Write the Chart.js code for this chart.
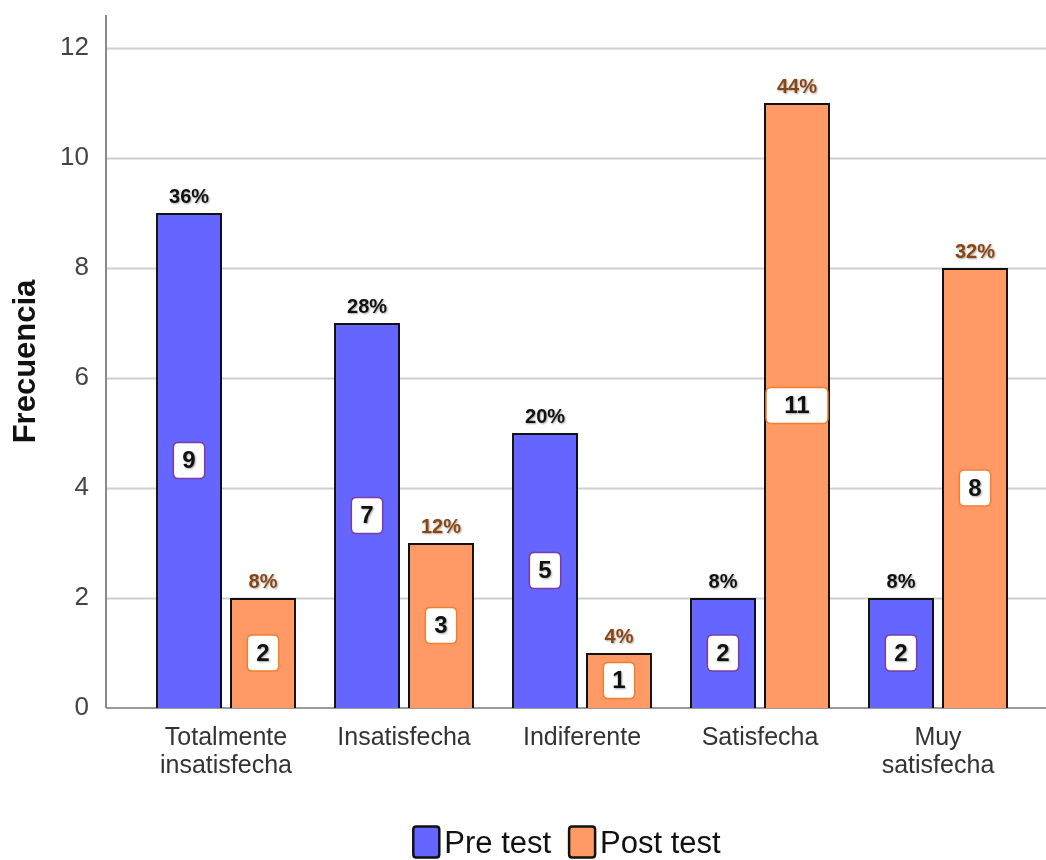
<!DOCTYPE html>
<html>
<head>
<meta charset="utf-8">
<script src="https://cdn.jsdelivr.net/npm/chart.js@4.4.1/dist/chart.umd.min.js"></script>
<style>
  html, body { margin: 0; padding: 0; background: #fff; }
  #wrap { width: 1046px; height: 860px; }
</style>
</head>
<body>
<div id="wrap"><canvas id="c" width="1046" height="860"></canvas></div>
<script>
// Satisfaction categories (x axis)
const categories = [
  ['Totalmente', 'insatisfecha'],
  'Insatisfecha',
  'Indiferente',
  'Satisfecha',
  ['Muy', 'satisfecha']
];
// Frequencies per group
const preTest = [9, 7, 5, 2, 2];
const postTest = [2, 3, 1, 11, 8];
const seriesNames = ['Pre test', 'Post test'];
// Y axis ticks
const yTicks = [0, 2, 4, 6, 8, 10, 12];

const FONT = '"Liberation Sans", Arial, sans-serif';
const AXIS_INSET = 31;          // y axis line sits left of the plotted categories
const percentColors = ['#111111', '#8B4513'];
const boxBorderColors = ['#7A3CA8', '#F07F2E'];

// Gridlines and axis lines, extended beyond the category band
const gridPlugin = {
  id: 'extendedGrid',
  beforeDatasetsDraw(chart) {
    const { ctx, chartArea, scales } = chart;
    const y = scales.y;
    const axisX = chartArea.left - AXIS_INSET;
    ctx.save();
    ctx.lineWidth = 2;
    ctx.strokeStyle = '#cfcfcf';
    y.ticks.forEach(t => {
      if (t.value === 0) return;
      const py = Math.round(y.getPixelForValue(t.value)) + 0.5;
      ctx.beginPath();
      ctx.moveTo(axisX, py);
      ctx.lineTo(chart.width, py);
      ctx.stroke();
    });
    // baseline
    const by = Math.round(y.getPixelForValue(0));
    ctx.strokeStyle = '#9a9a9a';
    ctx.beginPath();
    ctx.moveTo(axisX, by);
    ctx.lineTo(chart.width, by);
    ctx.stroke();
    // y axis line
    ctx.strokeStyle = '#8a8a8a';
    ctx.beginPath();
    ctx.moveTo(axisX, chartArea.top);
    ctx.lineTo(axisX, by);
    ctx.stroke();
    ctx.restore();
  }
};

function roundRect(ctx, x, y, w, h, r) {
  ctx.beginPath();
  ctx.moveTo(x + r, y);
  ctx.lineTo(x + w - r, y);
  ctx.quadraticCurveTo(x + w, y, x + w, y + r);
  ctx.lineTo(x + w, y + h - r);
  ctx.quadraticCurveTo(x + w, y + h, x + w - r, y + h);
  ctx.lineTo(x + r, y + h);
  ctx.quadraticCurveTo(x, y + h, x, y + h - r);
  ctx.lineTo(x, y + r);
  ctx.quadraticCurveTo(x, y, x + r, y);
  ctx.closePath();
}

// Percent above each bar, count in a white box inside each bar
const labelPlugin = {
  id: 'barLabels',
  afterDatasetsDraw(chart) {
    const { ctx } = chart;
    chart.data.datasets.forEach((ds, i) => {
      const total = ds.data.reduce((a, b) => a + b, 0);
      const meta = chart.getDatasetMeta(i);
      meta.data.forEach((bar, j) => {
        const v = ds.data[j];
        const { x, y, base, width } = bar.getProps(['x', 'y', 'base', 'width'], true);
        const pct = Math.round(v / total * 100) + '%';
        ctx.save();
        ctx.shadowColor = 'rgba(0,0,0,0.35)';
        ctx.shadowBlur = 2;
        ctx.shadowOffsetX = 1;
        ctx.shadowOffsetY = 1;
        ctx.font = 'bold 20px ' + FONT;
        ctx.fillStyle = percentColors[i];
        ctx.textAlign = 'center';
        ctx.textBaseline = 'alphabetic';
        ctx.fillText(pct, x, y - 10);
        ctx.restore();

        // value box
        const txt = String(v);
        ctx.save();
        ctx.font = 'bold 24px ' + FONT;
        const tw = ctx.measureText(txt).width;
        const bw = txt.length > 1 ? width - 4 : tw + 18;
        const bh = 36;
        const cy = (y + base) / 2;
        roundRect(ctx, x - bw / 2, cy - bh / 2, bw, bh, 5);
        ctx.fillStyle = '#ffffff';
        ctx.fill();
        ctx.lineWidth = 1.5;
        ctx.strokeStyle = boxBorderColors[i];
        ctx.stroke();
        ctx.shadowColor = 'rgba(0,0,0,0.35)';
        ctx.shadowBlur = 2;
        ctx.shadowOffsetX = 1;
        ctx.shadowOffsetY = 1;
        ctx.fillStyle = '#111';
        ctx.textAlign = 'center';
        ctx.textBaseline = 'middle';
        ctx.fillText(txt, x, cy + 1);
        ctx.restore();
      });
    });
  }
};

// Legend drawn below the axis labels
const legendPlugin = {
  id: 'bottomLegend',
  afterDraw(chart) {
    const { ctx, chartArea } = chart;
    ctx.save();
    ctx.font = '31px ' + FONT;
    const boxW = 26, boxH = 31, gapText = 5, gapItem = 18;
    const items = chart.data.datasets.map(ds => ({
      label: ds.label, color: ds.backgroundColor,
      w: boxW + gapText + ctx.measureText(ds.label).width
    }));
    const totalW = items.reduce((a, it) => a + it.w, 0) + gapItem * (items.length - 1);
    let x = (chartArea.left + chartArea.right) / 2 - 15 - totalW / 2;
    const cy = 842;
    items.forEach(it => {
      roundRect(ctx, x, cy - boxH / 2, boxW, boxH, 3);
      ctx.fillStyle = it.color;
      ctx.fill();
      ctx.lineWidth = 2.5;
      ctx.strokeStyle = '#111';
      ctx.stroke();
      ctx.fillStyle = '#111';
      ctx.textAlign = 'left';
      ctx.textBaseline = 'middle';
      ctx.fillText(it.label, x + boxW + gapText, cy + 2);
      x += it.w + gapItem;
    });
    ctx.restore();
  }
};

new Chart(document.getElementById('c'), {
  type: 'bar',
  data: {
    labels: categories,
    datasets: [
      { label: seriesNames[0], data: preTest, backgroundColor: '#6565FF', borderColor: '#111', borderWidth: 2 },
      { label: seriesNames[1], data: postTest, backgroundColor: '#FF9A66', borderColor: '#111', borderWidth: 2 }
    ]
  },
  options: {
    responsive: false,
    animation: false,
    events: [],
    categoryPercentage: 0.831,
    barPercentage: 0.892,
    layout: { padding: { top: 15, right: 19, bottom: 60, left: 0 } },
    plugins: { legend: { display: false }, tooltip: { enabled: false } },
    scales: {
      x: {
        grid: { display: false },
        border: { display: false },
        ticks: {
          color: '#333',
          font: { family: FONT, size: 25, lineHeight: 1.12 },
          padding: 8,
          maxRotation: 0,
          autoSkip: false
        },
        afterFit(scale) {
          scale.height = 92;
          scale.paddingLeft = 0;
          scale.paddingRight = 0;
        }
      },
      y: {
        min: 0,
        max: 12.6,
        grid: { display: false },
        border: { display: false },
        afterBuildTicks(scale) { scale.ticks = yTicks.map(v => ({ value: v })); },
        ticks: {
          color: '#444',
          font: { family: FONT, size: 26 },
          padding: 40
        },
        title: {
          display: true,
          text: 'Frecuencia',
          color: '#111',
          font: { family: FONT, size: 31, weight: 'bold' },
          padding: { top: 8, bottom: 0 }
        },
        afterFit(scale) {
          scale.width = 137;
          scale.paddingTop = 0;
          scale.paddingBottom = 0;
        }
      }
    }
  },
  plugins: [gridPlugin, labelPlugin, legendPlugin]
});
</script>
</body>
</html>
